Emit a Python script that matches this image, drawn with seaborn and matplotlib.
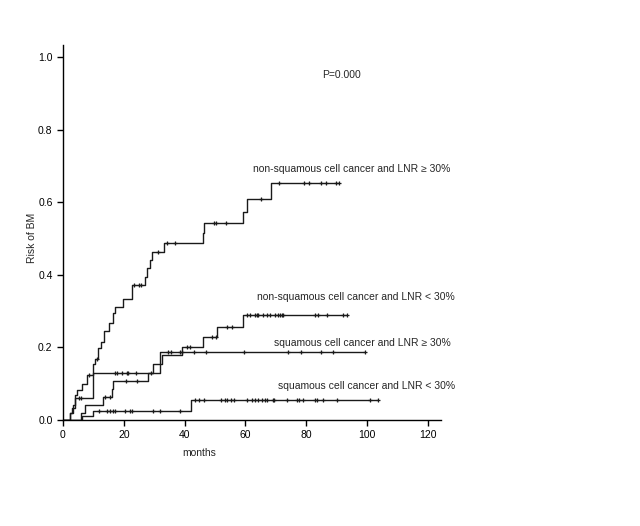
import numpy as np
import pandas as pd
import matplotlib
matplotlib.use("Agg")
import matplotlib.pyplot as plt
import seaborn as sns

# cumulative risk of BM: event times (months) and level after each step
nsq_hi_t = [0, 2.3, 3.1, 3.8, 4.7, 6.1, 8.0, 10.0, 10.6, 11.6, 12.4, 13.5, 15.2, 16.3,
            17.1, 19.8, 22.6, 27.0, 27.7, 28.6, 29.4, 33.2, 46.0, 46.4, 59.3, 60.4, 68.4]
nsq_hi_y = [0, 0.020, 0.032, 0.069, 0.083, 0.099, 0.124, 0.154, 0.167, 0.197, 0.216, 0.246,
            0.266, 0.294, 0.312, 0.332, 0.372, 0.395, 0.418, 0.441, 0.464, 0.488, 0.515,
            0.542, 0.574, 0.608, 0.652]
nsq_hi_cens = [8.5, 11.2, 23.3, 25.1, 25.6, 31.3, 34.1, 36.8, 49.7, 50.2, 53.5, 65.0, 71.0,
               79.3, 81.0, 84.8, 86.4, 89.7, 90.8]

nsq_lo_t = [0, 5.8, 7.2, 13.3, 16.0, 16.5, 28.0, 29.5, 32.7, 39.0, 45.9, 50.7, 59.3]
nsq_lo_y = [0, 0.018, 0.041, 0.063, 0.085, 0.107, 0.130, 0.154, 0.179, 0.202, 0.228, 0.257, 0.289]
nsq_lo_cens = [13.8, 15.5, 20.6, 24.2, 40.7, 41.7, 48.9, 50.2, 54.0, 55.6, 60.4, 61.5, 63.1,
               63.7, 64.2, 65.8, 67.0, 68.0, 69.7, 70.8, 71.3, 71.9, 72.4, 82.8, 83.9, 86.7,
               92.1, 93.3]

sq_hi_t = [0, 2.3, 3.2, 4.0, 10.0, 32.0]
sq_hi_y = [0, 0.020, 0.040, 0.060, 0.130, 0.188]
sq_hi_cens = [5.4, 5.8, 17.1, 17.7, 19.3, 20.9, 21.5, 24.0, 28.8, 34.6, 35.4, 38.5, 39.0,
              43.1, 47.0, 59.5, 74.0, 78.1, 85.0, 88.9, 99.3]

sq_lo_t = [0, 6.1, 9.8, 42.0]
sq_lo_y = [0, 0.012, 0.025, 0.055]
sq_lo_cens = [11.9, 14.4, 15.5, 16.5, 17.1, 20.4, 22.0, 22.6, 29.7, 31.9, 38.5, 43.4, 44.8,
              46.4, 51.8, 53.3, 54.0, 55.4, 56.2, 60.4, 62.0, 63.1, 64.2, 65.3, 66.4, 67.2,
              68.9, 69.4, 73.5, 76.8, 77.7, 79.0, 82.8, 83.4, 85.6, 90.0, 100.9, 103.7]

groups = ["non-squamous cell cancer and LNR \u2265 30%",
          "non-squamous cell cancer and LNR < 30%",
          "squamous cell cancer and LNR \u2265 30%",
          "squamous cell cancer and LNR < 30%"]
label_pos = [(62.5, 0.691), (63.8, 0.339), (69.4, 0.212), (70.7, 0.094)]

curves = [(nsq_hi_t, nsq_hi_y, nsq_hi_cens),
          (nsq_lo_t, nsq_lo_y, nsq_lo_cens),
          (sq_hi_t, sq_hi_y, sq_hi_cens),
          (sq_lo_t, sq_lo_y, sq_lo_cens)]

sns.set_style("ticks")
plt.rcParams['font.family'] = ['Liberation Sans', 'DejaVu Sans']
plt.rcParams['font.size'] = 7.5

fig = plt.figure(figsize=(6.4, 5.26), dpi=100)
ax = fig.add_axes([63 / 640, 106 / 526, 378 / 640, 375 / 526])

line_col = "#1a1a1a"
for (t, y, cens), name in zip(curves, groups):
    t = np.array(t)
    y = np.array(y)
    # extend last level to last censored observation
    tt = np.append(t, max(cens))
    yy = np.append(y, y[-1])
    df = pd.DataFrame({"months": tt, "risk": yy})
    sns.lineplot(data=df, x="months", y="risk", drawstyle="steps-post",
                 estimator=None, sort=False, color=line_col, linewidth=1.0, ax=ax)
    cy = y[np.searchsorted(t, cens, side="right") - 1]
    sns.scatterplot(x=cens, y=cy, marker="+", s=9, color=line_col,
                    linewidth=0.9, ax=ax, zorder=3)

for name, (px, py) in zip(groups, label_pos):
    ax.text(px, py, name, ha="left", va="center", fontsize=7.5)
ax.text(91.7, 0.95, "P=0.000", ha="center", va="center", fontsize=7.5)

ax.set_xlim(0, 124.3)
ax.set_ylim(0, 1.033)
ax.set_xticks(np.arange(0, 121, 20))
ax.set_yticks(np.arange(0, 1.01, 0.2))
ax.set_yticklabels([f"{v:.1f}" for v in np.arange(0, 1.01, 0.2)])
ax.tick_params(direction="out", length=4, width=1, labelsize=7.5, colors="black")
for side in ["left", "bottom"]:
    ax.spines[side].set_color("black")
    ax.spines[side].set_linewidth(1)
sns.despine(ax=ax)

ax.set_xlabel("months", fontsize=7.5)
ax.set_ylabel("Risk of BM", fontsize=7.5)
ax.xaxis.set_label_coords(0.36, -0.075)
ax.yaxis.set_label_coords(-0.07, 0.485)

fig.savefig("out.png", dpi=100, facecolor="white")
